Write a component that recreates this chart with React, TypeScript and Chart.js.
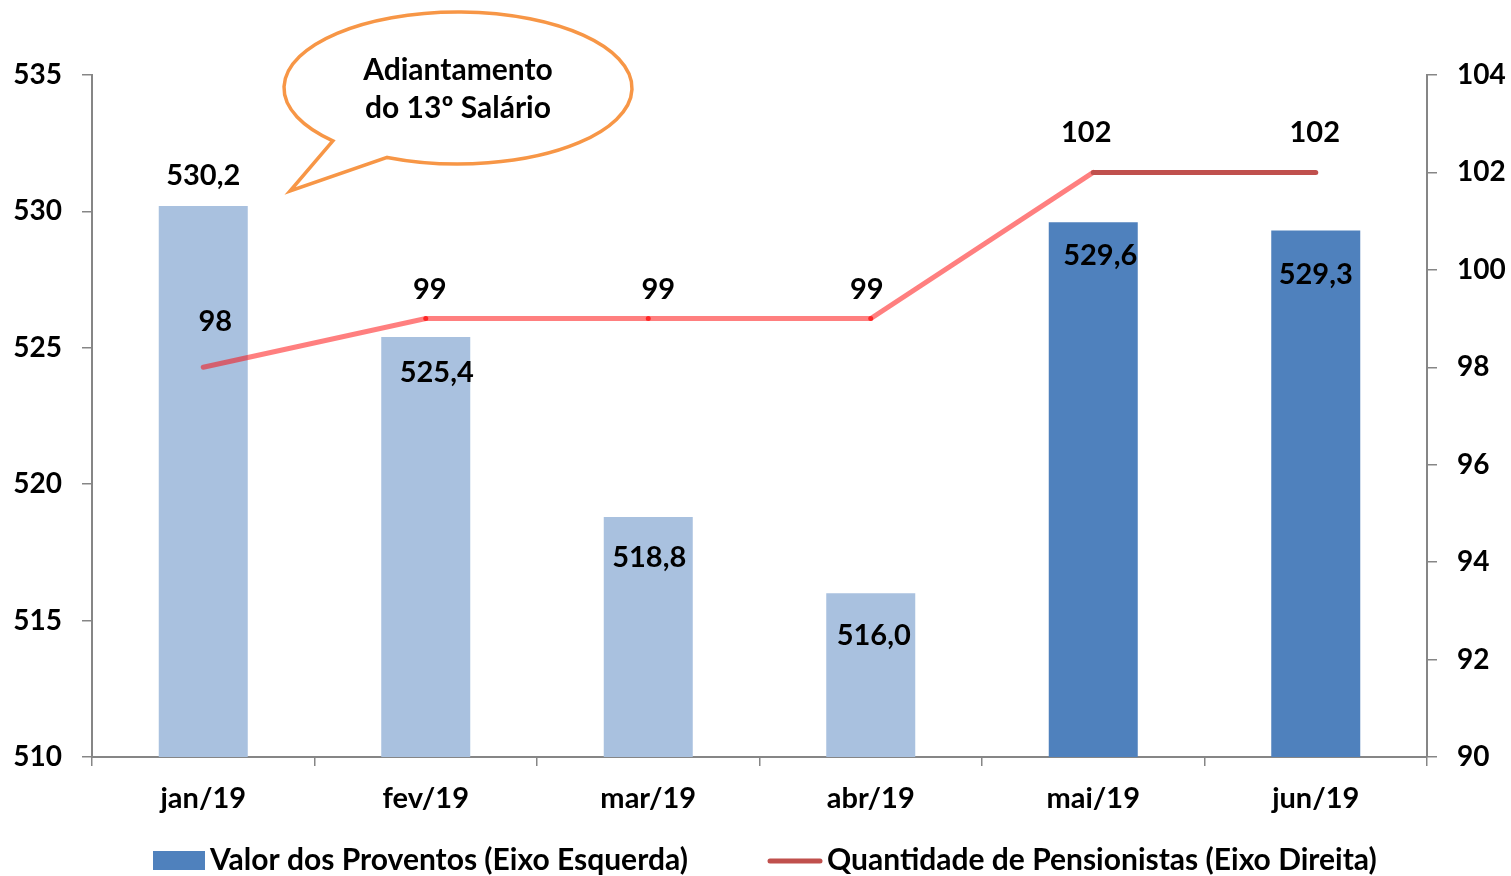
import React, { useEffect, useRef } from "react";
import { Chart, registerables } from "chart.js";
Chart.register(...registerables);

const categories = ["jan/19", "fev/19", "mar/19", "abr/19", "mai/19", "jun/19"];
const proventos = [530.2, 525.4, 518.8, 516.0, 529.6, 529.3];
const proventosLabels = ["530,2", "525,4", "518,8", "516,0", "529,6", "529,3"];
const pensionistas = [98, 99, 99, 99, 102, 102];
const pensionistasLabels = ["98", "99", "99", "99", "102", "102"];
const legendLabels = ["Valor dos Proventos (Eixo Esquerda)", "Quantidade de Pensionistas (Eixo Direita)"];
const calloutLines = ["Adiantamento", "do 13º Salário"];

const FONT = "Lato";
const W = "bold";
const LIGHT = "#A9C1DF";
const DARK = "#4F81BD";
const PINK = "rgba(255,0,0,0.5)";
const RED = "#C0504D";
const AXIS = "#868686";
const ORANGE = "#F79646";

const barLabelOffsets = [[0, -30], [11, 36], [1, 41], [3, 42], [7, 33], [0, 44]];
const lineLabelOffsets = [[12, -46], [4, -29], [10, -29], [-4, -29], [-7, -40], [-1, -40]];

const overlay = {
  id: "overlay",
  afterDatasetsDraw(chart: any) {
    const ctx = chart.ctx;
    ctx.save();
    ctx.fillStyle = "#000";
    ctx.textAlign = "center";
    ctx.textBaseline = "middle";
    ctx.font = `${W} 29px ${FONT}`;
    const bars = chart.getDatasetMeta(0).data;
    bars.forEach((b: any, i: number) => {
      ctx.fillText(proventosLabels[i], b.x + barLabelOffsets[i][0], b.y + barLabelOffsets[i][1]);
    });
    const pts = chart.getDatasetMeta(1).data;
    pts.forEach((p: any, i: number) => {
      ctx.fillText(pensionistasLabels[i], p.x + lineLabelOffsets[i][0], p.y + lineLabelOffsets[i][1]);
    });

    // callout bubble
    ctx.lineWidth = 3.5;
    ctx.strokeStyle = ORANGE;
    ctx.fillStyle = "#fff";
    ctx.lineJoin = "miter";
    const cx = 458, cy = 88, rx = 174, ry = 76;
    const a1 = (Math.PI / 180) * 136;
    const a2 = (Math.PI / 180) * 114;
    ctx.beginPath();
    ctx.ellipse(cx, cy, rx, ry, 0, a1, a2 + Math.PI * 2, false);
    ctx.lineTo(290, 191);
    ctx.lineTo(cx + rx * Math.cos(a1), cy + ry * Math.sin(a1));
    ctx.closePath();
    ctx.fill();
    ctx.stroke();
    ctx.fillStyle = "#000";
    ctx.font = `${W} 30px ${FONT}`;
    ctx.fillText(calloutLines[0], 458, 70);
    ctx.fillText(calloutLines[1], 458, 108);

    // legend
    ctx.textAlign = "left";
    ctx.font = `${W} 30px ${FONT}`;
    ctx.fillStyle = DARK;
    ctx.fillRect(153, 851, 52, 19);
    ctx.fillStyle = "#000";
    ctx.fillText(legendLabels[0], 210, 860);
    ctx.strokeStyle = RED;
    ctx.lineWidth = 5;
    ctx.lineCap = "round";
    ctx.beginPath();
    ctx.moveTo(770, 861);
    ctx.lineTo(820, 861);
    ctx.stroke();
    ctx.fillText(legendLabels[1], 827, 860);
    ctx.restore();
  },
};

export default function App() {
  const ref = useRef<HTMLCanvasElement>(null);
  useEffect(() => {
    document.body.style.margin = "0";
    const tickFont = { family: FONT, size: 28, weight: W };
    const chart = new Chart(ref.current as HTMLCanvasElement, {
      type: "bar",
      data: {
        labels: categories,
        datasets: [
          {
            type: "bar",
            label: legendLabels[0],
            data: proventos,
            backgroundColor: proventos.map((_, i) => (i < 4 ? LIGHT : DARK)),
            yAxisID: "y",
            barPercentage: 0.4,
            categoryPercentage: 1,
            order: 2,
          },
          {
            type: "line",
            label: legendLabels[1],
            data: pensionistas,
            yAxisID: "y1",
            borderColor: PINK,
            borderWidth: 5,
            borderCapStyle: "round",
            pointRadius: [0, 2.5, 2.5, 2.5, 0, 0],
            pointBackgroundColor: "rgba(255,0,0,0.7)",
            pointBorderWidth: 0,
            segment: {
              borderColor: (c: any) => (c.p0DataIndex >= 4 ? RED : PINK),
            },
            order: 1,
          } as any,
        ],
      },
      options: {
        responsive: false,
        animation: false,
        layout: { padding: { top: 75, left: 0, right: 0, bottom: 0 } },
        plugins: { legend: { display: false }, tooltip: { enabled: false } },
        scales: {
          x: {
            grid: { display: true, drawOnChartArea: false, offset: true, tickLength: 9, color: AXIS, lineWidth: 1.5 },
            border: { color: AXIS, width: 2 },
            ticks: { color: "#000", font: { family: FONT, size: 29, weight: W }, padding: 15 },
            afterFit: (s: any) => { s.height = 119; },
          },
          y: {
            position: "left",
            min: 510,
            max: 535,
            grid: { display: true, drawOnChartArea: false, tickLength: 10, color: AXIS, lineWidth: 1.5 },
            border: { color: AXIS, width: 2 },
            ticks: { stepSize: 5, color: "#000", font: tickFont, padding: 20 },
            afterFit: (s: any) => { s.width = 92; },
          },
          y1: {
            position: "right",
            min: 90,
            max: 104,
            grid: { display: true, drawOnChartArea: false, tickLength: 10, color: AXIS, lineWidth: 1.5 },
            border: { color: AXIS, width: 2 },
            ticks: { stepSize: 2, color: "#000", font: tickFont, padding: 20 },
            afterFit: (s: any) => { s.width = 84; },
          },
        },
      } as any,
      plugins: [overlay],
    });
    return () => chart.destroy();
  }, []);
  return <canvas ref={ref} width={1511} height={876} style={{ display: "block" }} />;
}
